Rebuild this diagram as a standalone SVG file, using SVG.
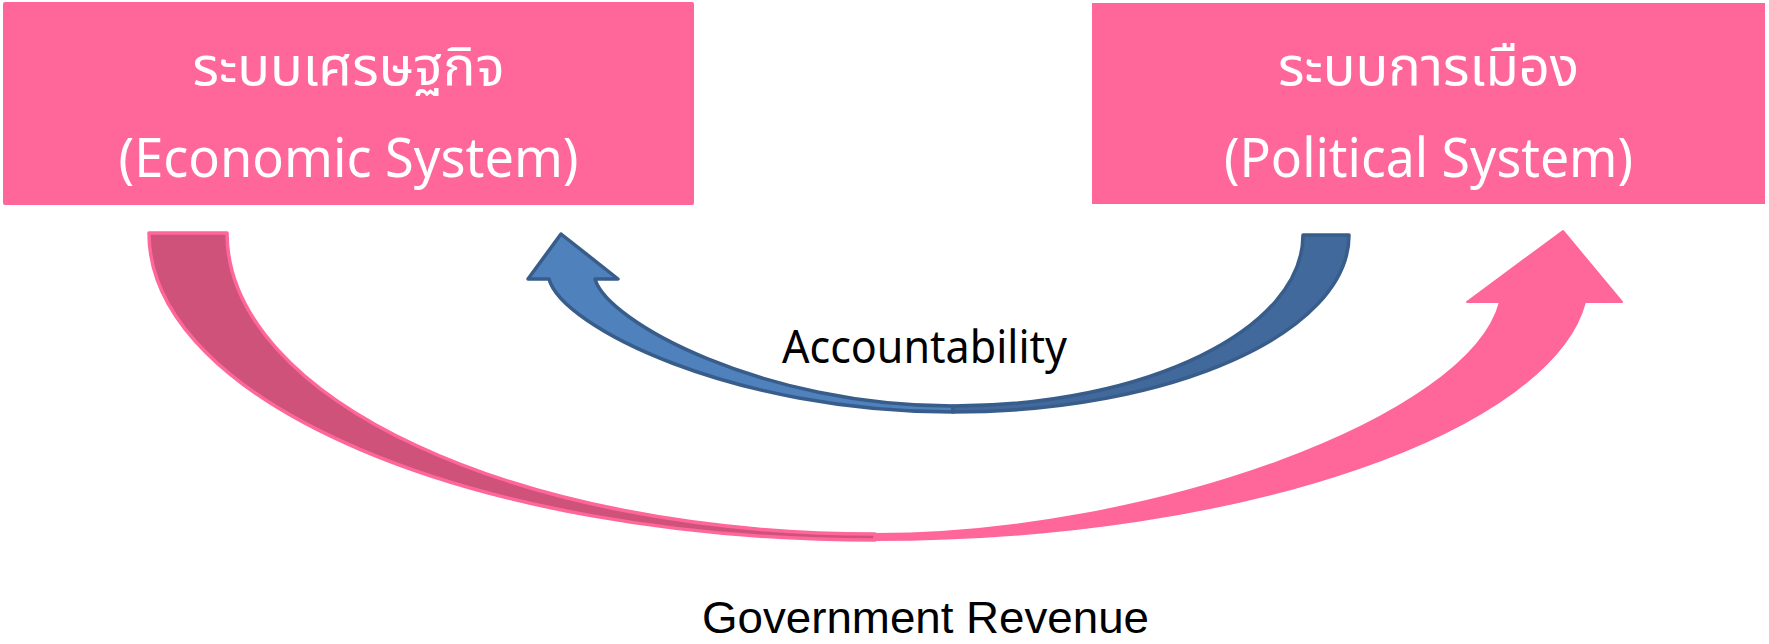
<svg xmlns="http://www.w3.org/2000/svg" width="1769" height="644" viewBox="0 0 1769 644">
<style>
.box{fill:#FF6699;}
.boxtxt{fill:#FFFFFF;font-family:"Noto Sans Thai","Noto Sans","DejaVu Sans",sans-serif;text-anchor:middle;}
.lbl{fill:#000000;font-family:"Noto Sans","Liberation Sans",sans-serif;}
.lbl2{fill:#000000;font-family:"Liberation Sans",sans-serif;}
.blue{fill:#4F81BD;stroke:#385D8A;stroke-width:3.5;stroke-linejoin:round;}
.blueback{fill:#41699B;stroke:#385D8A;stroke-width:3.5;stroke-linejoin:round;}
.pinkback{fill:#CF527B;stroke:#FF6699;stroke-width:3.5;stroke-linejoin:round;}
.pink{fill:#FF6699;stroke:#FF6699;stroke-width:2;stroke-linejoin:round;}
</style>
<rect width="1769" height="644" fill="#FFFFFF"/>
<g id="economic">
<rect class="box" x="3" y="2" width="691" height="203" rx="2"/>
<text class="boxtxt" x="348.5" y="85" font-size="54" textLength="312" lengthAdjust="spacingAndGlyphs">ระบบเศรษฐกิจ</text>
<text class="boxtxt" x="348.5" y="177" font-size="54" textLength="460" lengthAdjust="spacingAndGlyphs">(Economic System)</text>
</g>
<g id="political">
<rect class="box" x="1092" y="3" width="673" height="201"/>
<text class="boxtxt" x="1428.5" y="85" font-size="54" textLength="301" lengthAdjust="spacingAndGlyphs">ระบบการเมือง</text>
<text class="boxtxt" x="1428.5" y="177" font-size="54" textLength="409" lengthAdjust="spacingAndGlyphs">(Political System)</text>
</g>
<g id="connectors">
<g id="government-revenue">
<path class="pinkback" d="M149,233 C149,402.6 474,540 875,540 L875,534 C517,534 227,399 227,233 Z"/>
<path class="pink" d="M875,540 C1250,540 1552,428 1585,302 L1622,302 L1563,231 L1467,302 L1500,302 C1470,418 1150,534 875,534 Z"/>
</g>
<g id="accountability">
<path class="blue" d="M953,412 C733,412 562,327 549,279 L528,279 L561,234 L618,279 L595,279 C607,322 763,406 953,406 Z"/>
<path class="blueback" d="M1349,235 C1349,332.8 1171.7,412 953,412 L953,406 C1146.3,406 1303,329.4 1303,235 Z"/>
</g>
</g>
<text class="lbl" x="782" y="363" font-size="46" textLength="285" lengthAdjust="spacingAndGlyphs">Accountability</text>
<text class="lbl2" x="702" y="633" font-size="45" textLength="447" lengthAdjust="spacingAndGlyphs">Government Revenue</text>
</svg>
